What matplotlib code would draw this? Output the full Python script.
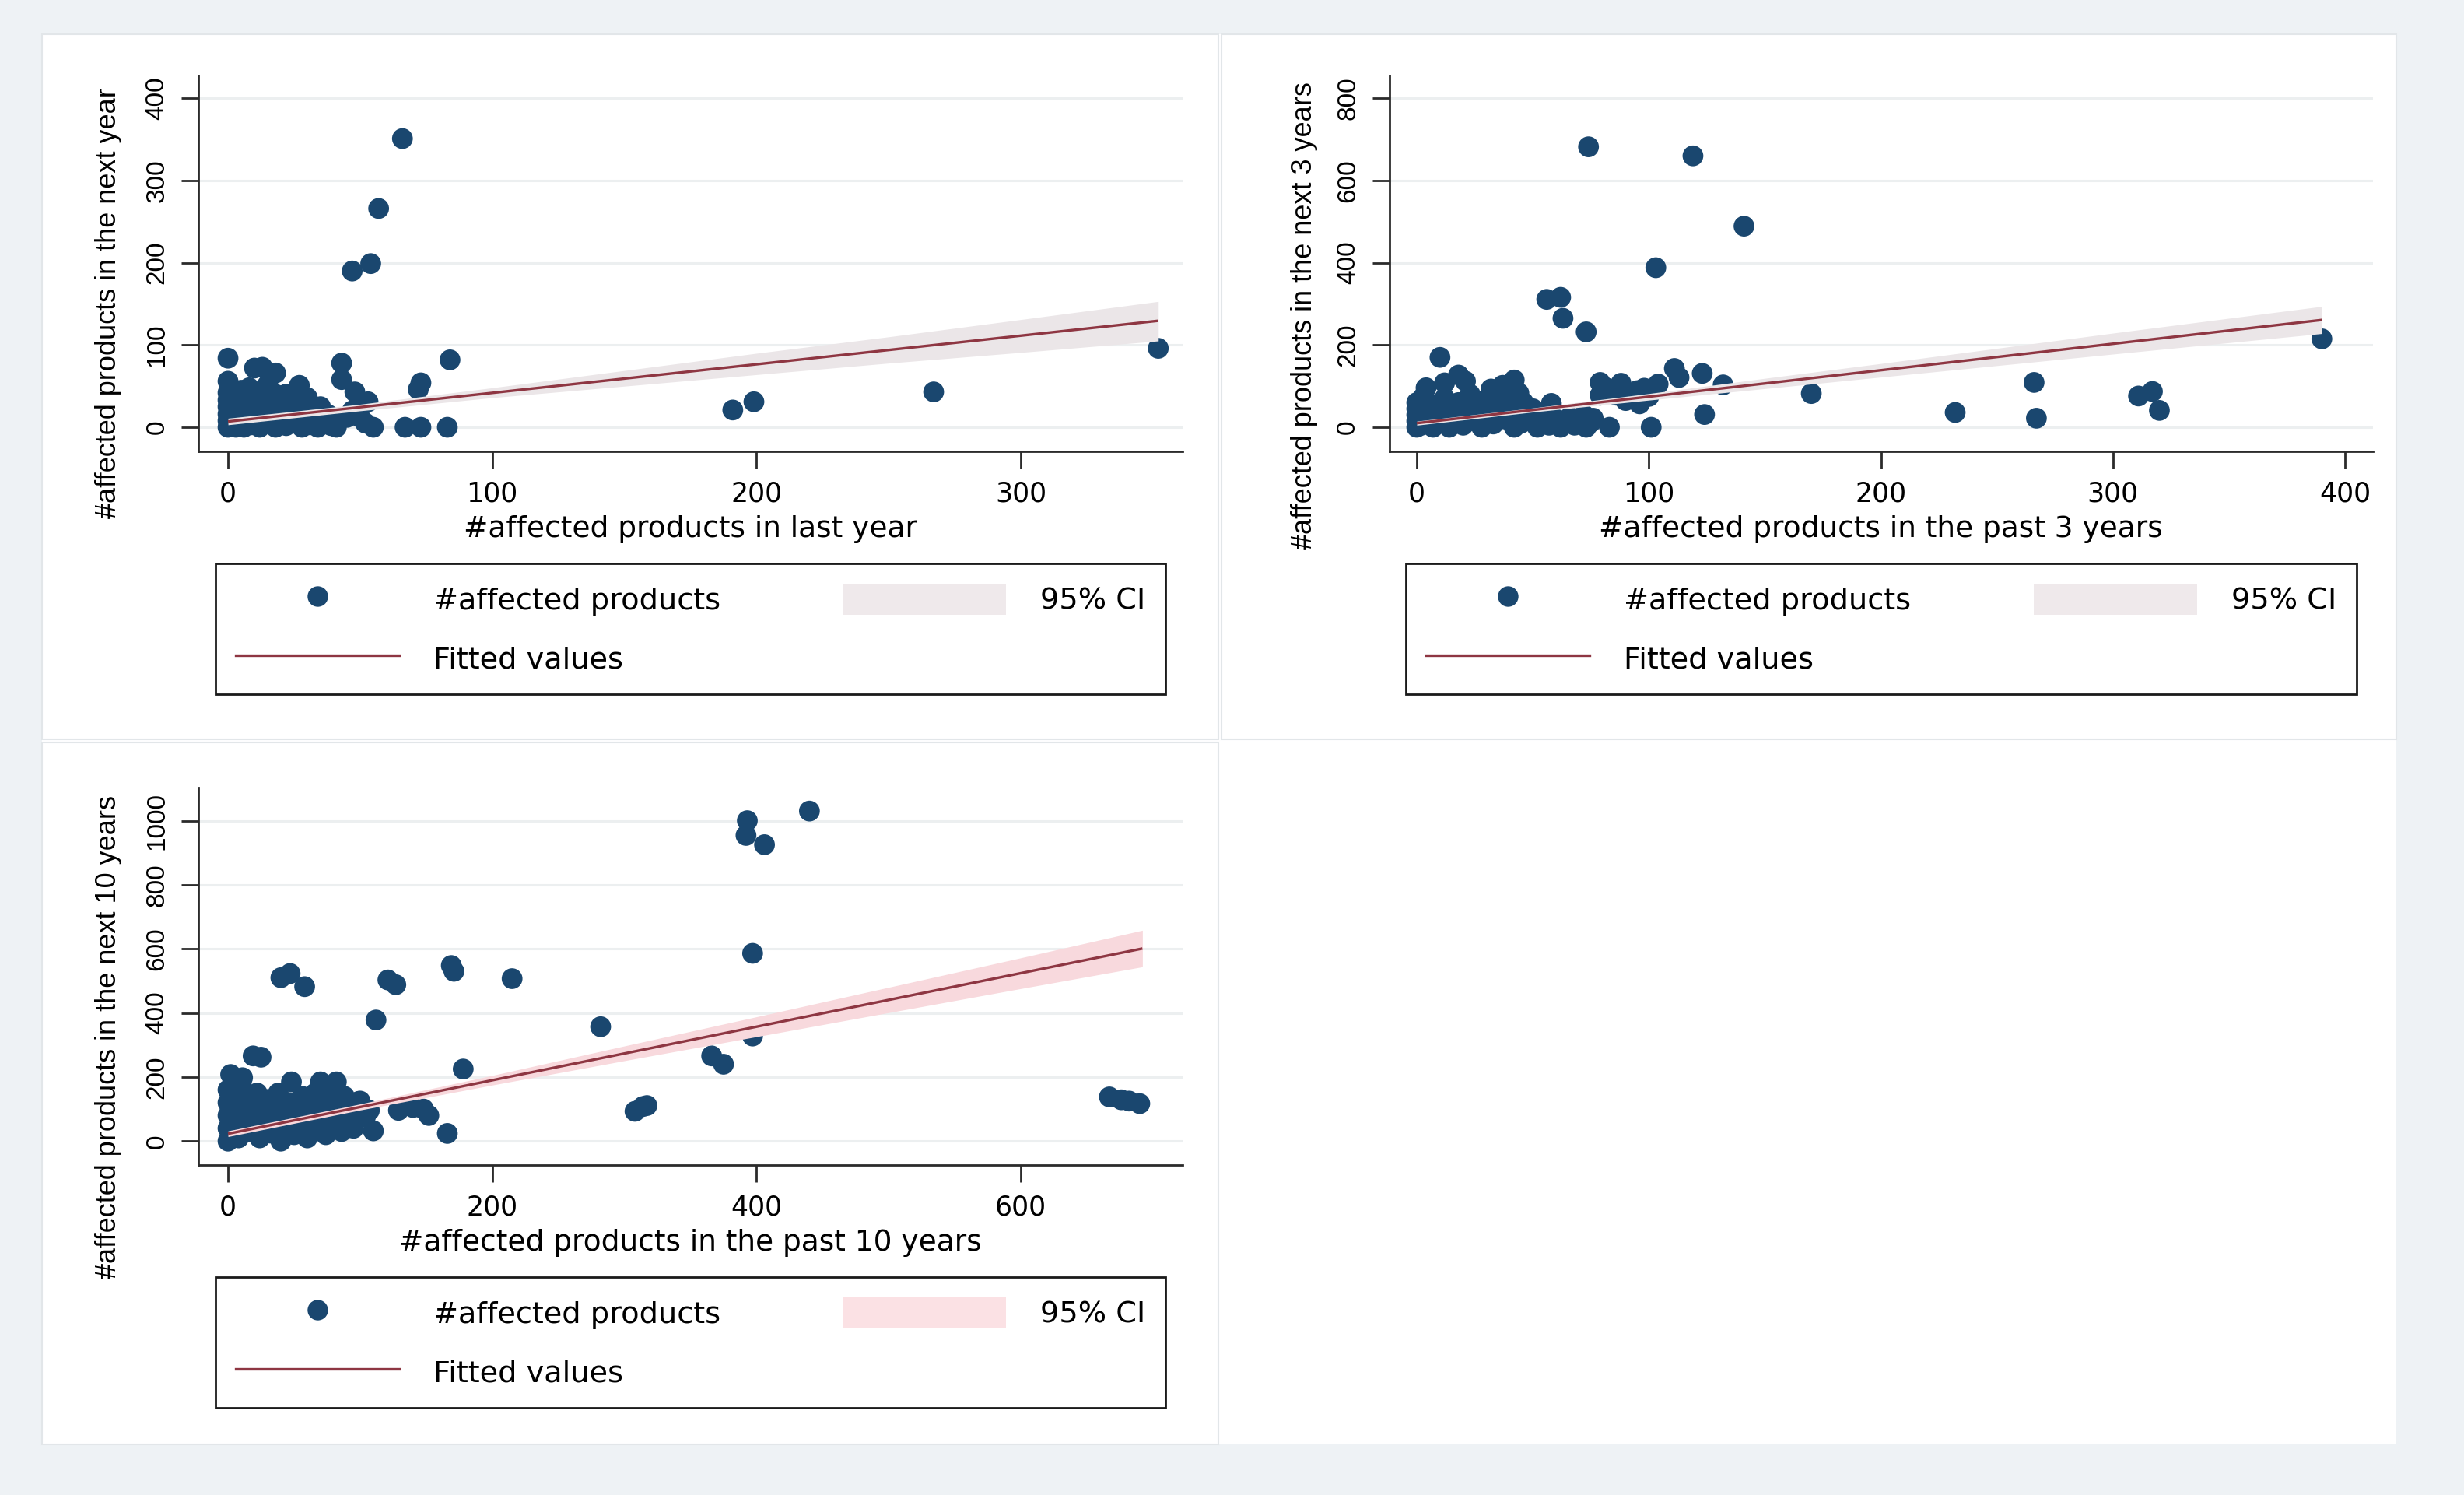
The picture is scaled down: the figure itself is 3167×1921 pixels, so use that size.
import matplotlib
matplotlib.use("Agg")
import matplotlib.pyplot as plt
from matplotlib.lines import Line2D
from matplotlib.patches import Patch, Rectangle

# ---------------- data ----------------
# Panel 1: last year -> next year
p1_x = [66, 57, 54, 47, 352, 267, 199, 191, 84, 73, 72, 43, 43, 48, 53, 55, 67, 73, 83, 40,
        0, 0, 10, 13, 18, 27, 15, 8, 22, 30, 35, 38, 45, 50, 47, 33,
        0, 0, 0, 0, 0, 0, 1, 2, 2, 3, 3, 3, 4, 5, 5, 5, 6, 7, 7, 8, 9, 10, 10, 11, 12, 12,
        13, 14, 15, 16, 17, 18, 18, 19, 20, 21, 22, 22, 23, 24, 25, 26, 27, 28, 29, 30, 31,
        32, 33, 34, 35, 37, 52, 39, 41]
p1_y = [351, 266, 199, 190, 96, 43, 31, 21, 82, 54, 46, 78, 58, 43, 31, 0, 0, 0, 0, 3,
        84, 56, 72, 73, 66, 51, 52, 48, 40, 36, 25, 15, 12, 12, 20, 5,
        0, 8, 16, 25, 33, 42, 3, 12, 28, 0, 20, 38, 6, 15, 30, 45, 0, 22, 10, 35, 3, 15, 28, 42, 0, 8,
        20, 34, 5, 14, 26, 40, 0, 8, 18, 32, 40, 2, 12, 24, 5, 16, 30, 0, 10, 22, 3,
        14, 6, 0, 18, 8, 5, 2, 0]
p1_fit_x = [0, 352]
p1_fit_y = [7, 129.5]
p1_ci_x = [0, 50, 100, 150, 200, 250, 300, 352]
p1_ci_lo = [3, 20, 36, 50, 64, 78, 91, 105]
p1_ci_hi = [11, 28, 48, 69, 90, 110, 131, 153]

# Panel 2: past 3 years -> next 3 years
p2_x = [74, 119, 141, 103, 56, 62, 63, 73, 10, 390, 266, 267, 232, 170, 311, 317, 320, 124, 132, 123,
        111, 113, 104, 83, 101, 79, 88, 95, 96, 86, 79, 90, 82, 100, 98,
        0, 0, 0, 0, 0, 2, 3, 4, 5, 6, 7, 8, 10, 11, 12, 12, 14, 15, 16, 18, 18, 20, 21, 22, 23,
        25, 26, 28, 29, 30, 32, 33, 34, 36, 37, 38, 40, 42, 42, 43, 44, 45, 46, 48, 50, 52, 53,
        55, 57, 58, 60, 62, 64, 66, 68, 70, 72, 73, 75, 76]
p2_y = [682, 660, 489, 388, 311, 316, 265, 232, 170, 215, 109, 22, 36, 82, 76, 87, 41, 31, 103, 131,
        143, 121, 105, 0, 0, 109, 107, 89, 57, 78, 78, 65, 95, 75, 95,
        0, 15, 30, 45, 60, 5, 75, 96, 22, 40, 0, 55, 10, 30, 108, 70, 0, 45, 20, 127, 60, 5, 112, 35, 80,
        15, 50, 0, 65, 28, 93, 8, 45, 75, 102, 20, 55, 115, 0, 35, 83, 10, 60, 25, 45, 0, 15,
        30, 5, 58, 20, 0, 12, 25, 5, 18, 30, 0, 12, 22]
p2_fit_x = [0, 390]
p2_fit_y = [10, 261]
p2_ci_x = [0, 50, 100, 150, 200, 250, 300, 390]
p2_ci_lo = [5, 37, 66, 94, 122, 150, 178, 228]
p2_ci_hi = [15, 47, 82, 119, 155, 192, 229, 294]

# Panel 3: past 10 years -> next 10 years
p3_x = [440, 393, 392, 406, 397, 397, 366, 375, 282, 215, 169, 171, 121, 127, 47, 40, 58, 112, 178, 166,
        308, 314, 317, 667, 676, 690, 682, 19, 25, 2, 11, 110, 99, 107, 129, 148, 152, 140,
        0, 0, 0, 0, 0, 3, 4, 5, 6, 8, 9, 10, 12, 13, 15, 17, 20, 22, 24, 26, 28, 30, 32, 34, 36,
        38, 40, 42, 44, 46, 48, 50, 52, 54, 56, 58, 60, 62, 64, 66, 68, 70, 72, 74, 76, 78, 80,
        82, 84, 86, 88, 90, 92, 95, 98, 100, 104]
p3_y = [1030, 1000, 954, 925, 586, 328, 266, 240, 357, 507, 548, 530, 503, 488, 523, 510, 482, 378, 225, 24,
        93, 108, 111, 138, 129, 117, 125, 266, 262, 208, 198, 32, 124, 96, 96, 100, 80, 105,
        0, 40, 80, 120, 160, 20, 60, 100, 140, 10, 50, 180, 90, 130, 30, 70, 110, 150, 10, 50, 90, 130, 25, 60, 100,
        150, 0, 40, 80, 120, 185, 20, 60, 100, 140, 30, 10, 70, 110, 150, 40, 185, 90, 20, 130, 160, 60,
        185, 100, 30, 140, 70, 110, 40, 90, 125, 75]
p3_fit_x = [0, 692]
p3_fit_y = [23, 601]
p3_ci_x = [0, 100, 200, 300, 400, 500, 600, 692]
p3_ci_lo = [14, 97, 175, 251, 326, 401, 476, 544]
p3_ci_hi = [32, 116, 205, 297, 388, 480, 572, 658]

legend_labels = ["#affected products", "Fitted values", "95% CI"]

# ---------------- style ----------------
NAVY = "#1a476f"
LINE = "#8e3642"
W, H = 3167, 1921
plt.rcParams["font.family"] = ["DejaVu Sans"]

fig = plt.figure(figsize=(W / 100, H / 100), dpi=100, facecolor="#eef2f5")

def frect(x0, y0, x1, y1, fc, ec, lw, z):
    fig.patches.append(Rectangle((x0 / W, 1 - y1 / H), (x1 - x0) / W, (y1 - y0) / H,
                                 transform=fig.transFigure, facecolor=fc, edgecolor=ec,
                                 linewidth=lw, zorder=z))

frect(54, 44, 3080, 1856, "white", "none", 0, -20)
frect(54, 44, 1566, 950, "white", "#e2e6e9", 1.5, -19)
frect(1570, 44, 3080, 950, "white", "#e2e6e9", 1.5, -19)
frect(54, 954, 1566, 1856, "white", "#e2e6e9", 1.5, -19)


def panel(box, xs, ys, fx, fy, cx, clo, chi, cicol, cileg, xlim, ylim, xt, yt,
          xlabel, ylabel, ylab_y, ylab_x, legbox):
    x0, y0, x1, y1 = box
    ax = fig.add_axes([x0 / W, 1 - y1 / H, (x1 - x0) / W, (y1 - y0) / H])
    ax.set_facecolor("none")
    ax.scatter(xs, ys, s=370, c=NAVY, edgecolors="none", zorder=2)
    ax.fill_between(cx, clo, chi, color=cicol, lw=0, zorder=3)
    ax.plot(fx, fy, color=LINE, lw=2.4, zorder=4, solid_capstyle="butt")
    ax.set_xlim(*xlim)
    ax.set_ylim(*ylim)
    ax.set_xticks(xt)
    ax.set_xticklabels([str(v) for v in xt], fontsize=25)
    ax.set_yticks(yt)
    ax.set_yticklabels([str(v) for v in yt], fontsize=24, family="Liberation Sans",
                       rotation=90, va="center")
    ax.yaxis.grid(True, color="#eceff0", lw=2.2, zorder=0)
    ax.set_axisbelow(True)
    for s in ["top", "right"]:
        ax.spines[s].set_visible(False)
    for s in ["left", "bottom"]:
        ax.spines[s].set_linewidth(2.0)
        ax.spines[s].set_color("#2b2b2b")
    ax.tick_params(axis="both", length=16, width=2, color="#2b2b2b", pad=11)
    ax.set_xlabel(xlabel, fontsize=27, va="center")
    ax.xaxis.set_label_coords(0.5, -0.207)
    ax.set_ylabel(ylabel, fontsize=26, va="center", family="Liberation Sans")
    ax.yaxis.set_label_coords(ylab_x, ylab_y)

    handles = [Line2D([0], [0], marker="o", ls="none", color=NAVY, markersize=19, markeredgewidth=0),
               Line2D([0], [0], color=LINE, lw=2.4),
               Patch(facecolor=cileg, edgecolor="none")]
    lx0, ly0, lx1, ly1 = legbox
    leg = ax.legend(handles, legend_labels, ncol=2, loc="center",
                    bbox_to_anchor=(lx0 / W, 1 - ly1 / H, (lx1 - lx0) / W, (ly1 - ly0) / H),
                    bbox_transform=fig.transFigure, mode="expand", frameon=True, fancybox=False,
                    edgecolor="#1a1a1a", framealpha=1, fontsize=27.5, handlelength=5.5,
                    handleheight=1.25, handletextpad=1.15, labelspacing=0.9, borderpad=0.68,
                    borderaxespad=0, columnspacing=3.7)
    leg.get_frame().set_linewidth(2.0)
    return ax


panel((255, 97, 1520, 580), p1_x, p1_y, p1_fit_x, p1_fit_y, p1_ci_x, p1_ci_lo, p1_ci_hi,
      "#ebe6e8", "#efe9eb", (-11.2, 361.2), (-29.3, 427.7), [0, 100, 200, 300], [0, 100, 200, 300, 400],
      "#affected products in last year", "#affected products in the next year", 0.395, -0.091,
      (277, 724, 1498, 892))

panel((1785.5, 97, 3049.6, 580), p2_x, p2_y, p2_fit_x, p2_fit_y, p2_ci_x, p2_ci_lo, p2_ci_hi,
      "#ebe6e8", "#efe9eb", (-11.9, 411.9), (-58.6, 855.4), [0, 100, 200, 300, 400],
      [0, 200, 400, 600, 800],
      "#affected products in the past 3 years", "#affected products in the next 3 years", 0.361, -0.086,
      (1807, 724, 3029, 892))

panel((255, 1012, 1520, 1497), p3_x, p3_y, p3_fit_x, p3_fit_y, p3_ci_x, p3_ci_lo, p3_ci_hi,
      "#f8d9dd", "#fbe1e4", (-22.4, 722.4), (-74.6, 1103.3), [0, 200, 400, 600],
      [0, 200, 400, 600, 800, 1000],
      "#affected products in the past 10 years", "#affected products in the next 10 years", 0.339, -0.091,
      (277, 1641, 1498, 1809))

fig.savefig("out.png", dpi=100, facecolor=fig.get_facecolor())
